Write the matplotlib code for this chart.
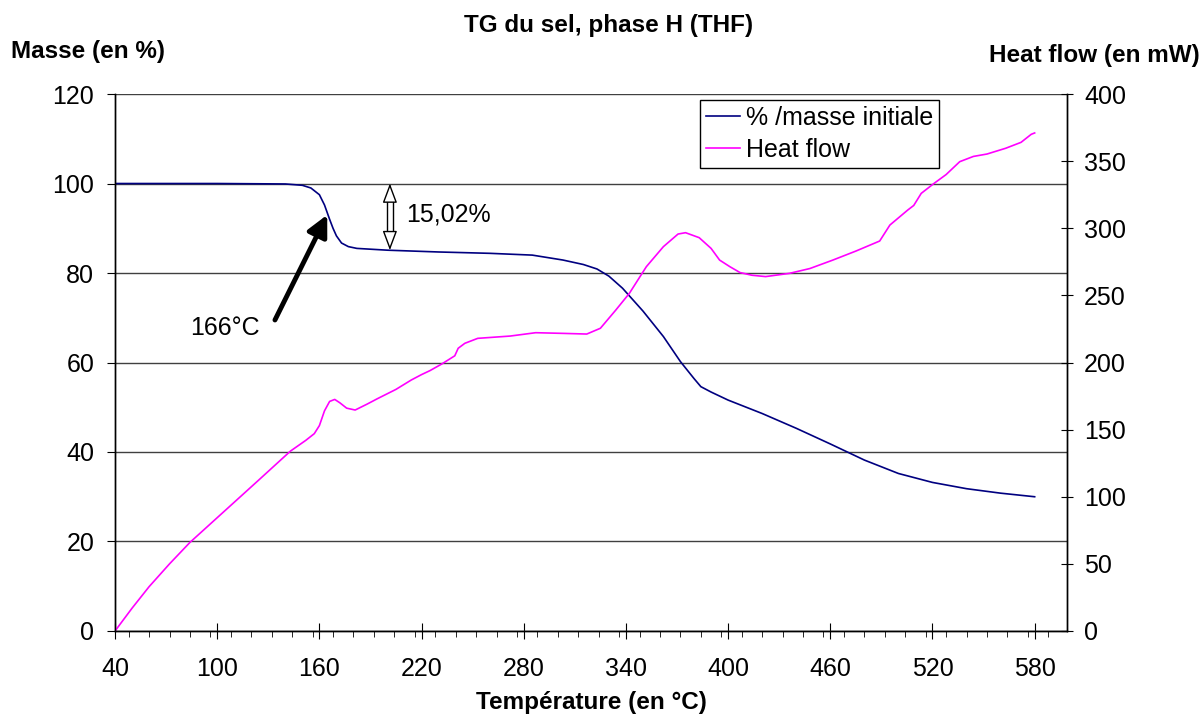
import matplotlib.pyplot as plt
from matplotlib.ticker import MultipleLocator

plt.rcParams['font.family'] = ['Liberation Sans', 'DejaVu Sans']

# TG curve (% of initial mass)
temp_masse = [40, 100, 140, 150, 155, 160, 163, 166, 168, 170, 173, 177, 182, 200, 230,
              260, 285, 303, 315, 323, 330, 338, 350, 362, 372, 380, 384, 390, 400,
              420, 440, 460, 480, 500, 520, 540, 560, 580]
masse = [100, 100, 99.9, 99.6, 99.0, 97.5, 95.2, 92.0, 90.0, 88.3, 86.7, 85.9, 85.5, 85.1, 84.7,
         84.4, 84.0, 82.9, 81.9, 80.9, 79.3, 76.6, 71.5, 65.8, 60.2, 56.4, 54.6, 53.4, 51.6,
         48.6, 45.3, 41.8, 38.2, 35.2, 33.2, 31.8, 30.8, 30.0]

# heat flow (mW)
temp_hf = [40, 50, 60, 72, 84, 104, 124, 143, 152, 157, 160, 163, 166, 169, 172, 176, 181,
           188, 194, 205, 214, 220, 225, 232, 239.5, 241.5, 245.4, 253, 272, 287, 303, 317,
           325, 334, 342, 352, 362, 370.6, 375, 383, 390, 395, 401, 407, 414, 422, 436, 448,
           461.5, 475, 489, 495, 505.5, 509, 513.4, 521, 528, 536, 544, 552, 563, 572, 578, 580]
heat_flow = [0, 17, 33, 50, 66, 89, 112, 134, 142, 147, 153, 164, 171, 172.5, 170, 166, 164.6,
             169, 173, 180, 187, 191, 194, 199, 205, 210.6, 214.3, 218, 219.7, 222.2, 221.7, 221.2,
             225.5, 239, 251.5, 271.4, 286.3, 295.7, 296.7, 293, 285, 276.3, 271.4, 267, 265, 264, 266.4, 270,
             276.3, 283, 290.5, 302.4, 313.6, 317, 326, 333.5, 340, 349.6, 353.5, 355.3, 359.6, 364, 370, 371]

x_ticks = [40, 100, 160, 220, 280, 340, 400, 460, 520, 580]

fig = plt.figure(figsize=(12.02, 7.15), dpi=100)
ax1 = fig.add_axes([0.0957, 0.1175, 0.792, 0.751])
ax2 = ax1.twinx()

ax1.plot(temp_masse, masse, color='#000080', lw=1.2, label='% /masse initiale')
ax2.plot(temp_hf, heat_flow, color='#FF00FF', lw=1.2, label='Heat flow')

ax1.set_xlim(40, 599)
ax1.set_ylim(0, 120)
ax2.set_ylim(0, 400)
ax1.set_xticks(x_ticks)
ax1.xaxis.set_minor_locator(MultipleLocator(12))
ax1.set_yticks(range(0, 121, 20))
ax2.set_yticks(range(0, 401, 50))

ax1.yaxis.grid(True, color='#404040', lw=1)
ax1.set_axisbelow(True)
for a in (ax1, ax2):
    a.spines['top'].set_visible(False)
    for s in a.spines.values():
        s.set_linewidth(1)

ax1.tick_params(axis='x', which='major', direction='inout', length=11.5, labelsize=18, pad=13)
ax1.tick_params(axis='x', which='minor', direction='out', length=4.5)
ax1.tick_params(axis='y', direction='out', length=6, labelsize=18, pad=9)
ax2.tick_params(axis='y', direction='inout', length=8.6, labelsize=18, pad=8)

ax1.set_xlabel('Température (en °C)', fontsize=17.5, fontweight='bold')
ax1.xaxis.set_label_coords(0.5, -0.112)
fig.text(0.506, 0.965, 'TG du sel, phase H (THF)', fontsize=17.5, fontweight='bold', ha='center', va='center')
fig.text(0.009, 0.928, 'Masse (en %)', fontsize=17.5, fontweight='bold', ha='left', va='center')
fig.text(0.998, 0.922, 'Heat flow (en mW)', fontsize=17.5, fontweight='bold', ha='right', va='center')

# 166 °C arrow
ax1.annotate('', xy=(164.6, 93), xytext=(133.9, 69.5),
             arrowprops=dict(arrowstyle='-|>,head_length=0.9,head_width=0.45', color='black',
                             lw=3.5, mutation_scale=14, shrinkA=0, shrinkB=0))
ax1.text(104.6, 67.8, '166°C', fontsize=18, ha='center', va='center')

# hollow double arrow for the mass loss
xa = 201.4
for tip, base in ((100, 96.2), (85.1, 88.9)):
    ax1.annotate('', xy=(xa, tip), xytext=(xa, base),
                 arrowprops=dict(arrowstyle='-|>,head_length=1.2,head_width=0.45', fc='white',
                                 ec='black', lw=1, mutation_scale=10, shrinkA=0, shrinkB=0))
for dx in (-1.75, 1.75):
    ax1.plot([xa + dx, xa + dx], [89.0, 96.1], color='black', lw=1)
ax1.text(211, 93, '15,02%', fontsize=18, ha='left', va='center')

h1, l1 = ax1.get_legend_handles_labels()
h2, l2 = ax2.get_legend_handles_labels()
leg = ax2.legend(h1 + h2, l1 + l2, loc='upper left', bbox_to_anchor=(0.614, 0.989),
                 fontsize=18, fancybox=False, framealpha=1, edgecolor='black',
                 handlelength=1.36, handletextpad=0.24, borderpad=0.25, labelspacing=0.3,
                 borderaxespad=0)
leg.get_frame().set_linewidth(1)

fig.savefig('out.png', dpi=100)
